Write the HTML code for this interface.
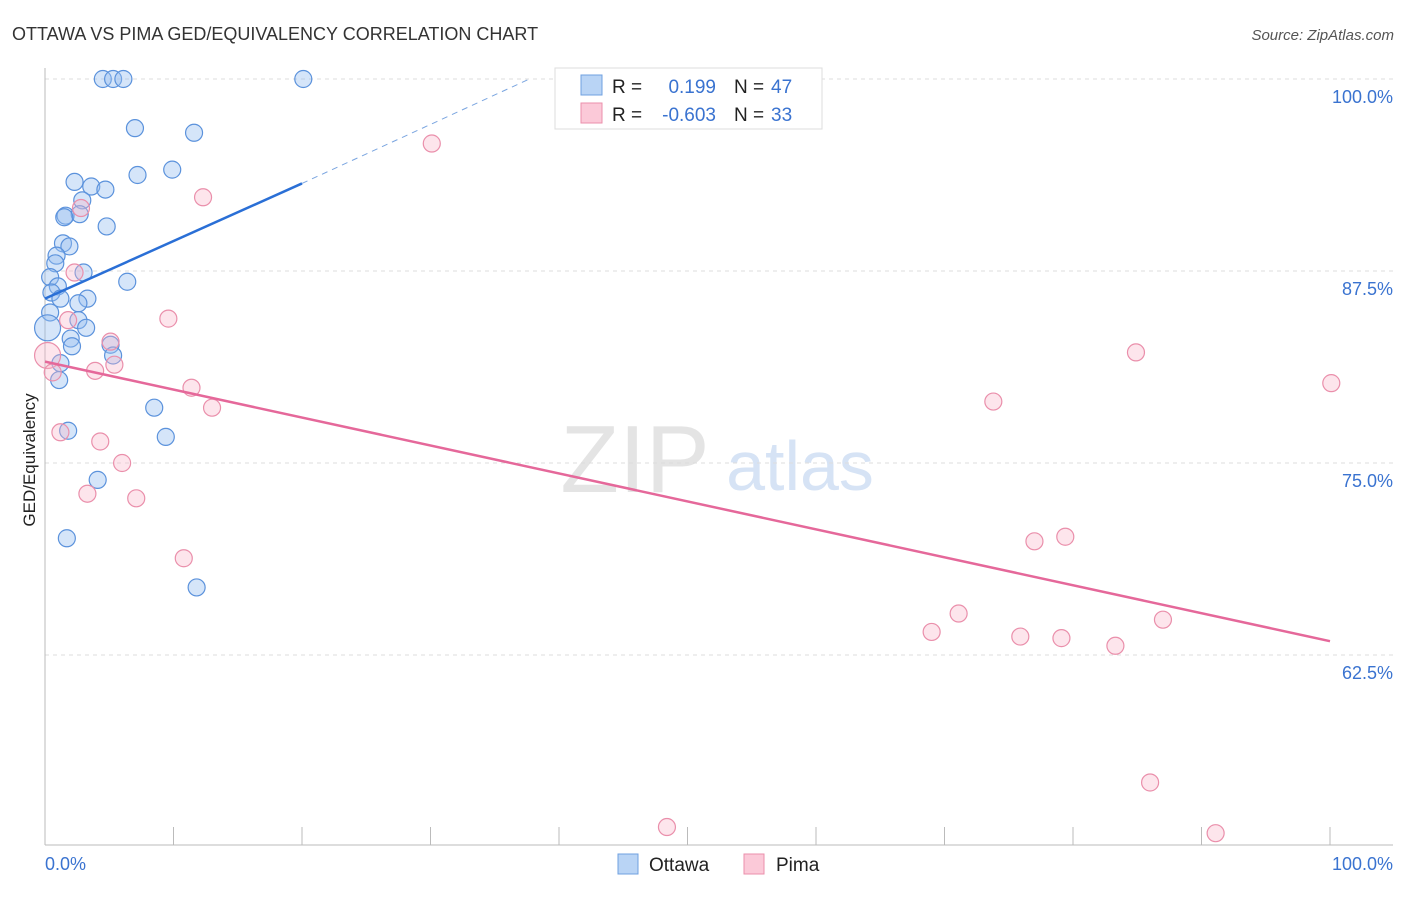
<!DOCTYPE html>
<html><head><meta charset="utf-8"><style>
body{margin:0;background:#fff;font-family:"Liberation Sans",sans-serif;}
svg text{font-family:"Liberation Sans",sans-serif;}
</style></head><body>
<svg id="chart" width="1406" height="892">
<text x="12" y="40" font-size="18" fill="#333">OTTAWA VS PIMA GED/EQUIVALENCY CORRELATION CHART</text>
<text x="1394" y="40" font-size="15" fill="#555" font-style="italic" text-anchor="end">Source: ZipAtlas.com</text>
<text x="35" y="460" font-size="17" fill="#222" text-anchor="middle" transform="rotate(-90 35 460)">GED/Equivalency</text>
<g>
<text x="635" y="492" font-size="96" fill="#e4e4e4" text-anchor="middle" font-family="Liberation Serif">ZIP</text>
<text x="800" y="490" font-size="70" fill="#d6e3f5" text-anchor="middle">atlas</text>
</g>
<g id="grid"></g><g id="axes"></g><g id="pts"></g><g id="lines"></g>
<g>
<rect x="555" y="68" width="267" height="61" fill="#fff" stroke="#ddd"/>
<rect x="581" y="75" width="21" height="20" fill="#b9d4f5" stroke="#6fa0e0"/>
<rect x="581" y="103" width="21" height="20" fill="#fbc9d8" stroke="#eb8fab"/>
<text x="612" y="93" font-size="19" fill="#222">R =</text>
<text x="716" y="93" font-size="19" fill="#3a73d0" text-anchor="end">0.199</text>
<text x="734" y="93" font-size="19" fill="#222">N =</text>
<text x="771" y="93" font-size="19" fill="#3a73d0">47</text>
<text x="612" y="121" font-size="19" fill="#222">R =</text>
<text x="716" y="121" font-size="19" fill="#3a73d0" text-anchor="end">-0.603</text>
<text x="734" y="121" font-size="19" fill="#222">N =</text>
<text x="771" y="121" font-size="19" fill="#3a73d0">33</text>
</g>
<g>
<rect x="618" y="854" width="20" height="20" fill="#b9d4f5" stroke="#6fa0e0"/>
<text x="649" y="871" font-size="19" fill="#222">Ottawa</text>
<rect x="744" y="854" width="20" height="20" fill="#fbc9d8" stroke="#eb8fab"/>
<text x="776" y="871" font-size="19" fill="#222">Pima</text>
</g>
</svg>
<script>
const ottawaX=[4.5,5.3,6.1,20.1,7.0,11.6,7.2,9.9,2.3,3.6,4.7,2.9,1.6,2.7,1.5,4.8,1.4,1.9,0.9,0.8,3.0,0.4,6.4,1.0,0.5,1.2,3.3,2.6,0.4,2.6,3.2,0.2,2.0,2.1,5.1,5.3,1.2,1.1,8.5,9.4,1.8,4.1,1.7,11.8];
const ottawaY=[100,100,100,100,96.8,96.5,93.75,94.1,93.3,93.0,92.8,92.1,91.1,91.2,91.0,90.4,89.3,89.1,88.5,88.0,87.4,87.1,86.8,86.5,86.1,85.7,85.7,85.4,84.8,84.3,83.8,83.8,83.1,82.6,82.7,82.0,81.5,80.4,78.6,76.7,77.1,73.9,70.1,66.9];
const pimaX=[30.1,12.3,2.8,2.3,1.8,9.6,5.1,0.2,5.4,3.9,0.6,11.4,13.0,1.2,4.3,6.0,3.3,7.1,10.8,84.9,100.1,73.8,77.0,79.4,71.1,69.0,75.9,79.1,83.3,87.0,86.0,48.4,91.1];
const pimaY=[95.8,92.3,91.6,87.4,84.3,84.4,82.9,82.0,81.4,81.0,80.9,79.9,78.6,77.0,76.4,75.0,73.0,72.7,68.8,82.2,80.2,79.0,69.9,70.2,65.2,64.0,63.7,63.6,63.1,64.8,54.2,51.3,50.9];
const yTicks=[100,87.5,75,62.5];
const yTickLabels=["100.0%","87.5%","75.0%","62.5%"];
const xTicks=[0,10,20,30,40,50,60,70,80,90,100];
const ottawaTrend=[0,85.7,20,93.2,37.7,100];
const pimaTrend=[0,81.6,100,63.4];
const X=v=>45+v*12.85, Y=v=>79+(100-v)*15.36;
const NS="http://www.w3.org/2000/svg";
function mk(t,a,p){const e=document.createElementNS(NS,t);for(const k in a)e.setAttribute(k,a[k]);p.appendChild(e);return e;}
const grid=document.getElementById('grid'),axes=document.getElementById('axes'),pts=document.getElementById('pts'),lines=document.getElementById('lines');
yTicks.forEach((t,i)=>{
 const g=mk('line',{x1:45,x2:1393,y1:Y(t),y2:Y(t),stroke:'#ddd','stroke-dasharray':'4,4'},grid);
 
 
 const l=mk('text',{x:1393,y:Y(t)+24,'font-size':18,fill:'#3a73d0','text-anchor':'end'},axes);
 l.textContent=yTickLabels[i];
 
 
});
const xa=mk('line',{x1:45,x2:1393,y1:845,y2:845,stroke:'#bbb'},axes);


const ya=mk('line',{x1:45,x2:45,y1:68,y2:845,stroke:'#bbb'},axes);


xTicks.forEach(t=>{
 const k=mk('line',{x1:X(t),x2:X(t),y1:827,y2:845,stroke:'#bbb'},axes);
 
 
});
[[0,"0.0%","start",45],[100,"100.0%","end",1393]].forEach(d=>{
 const l=mk('text',{x:d[3],y:870,'font-size':18,fill:'#3a73d0','text-anchor':d[2]},axes);
 l.textContent=d[1];
 
 
});
ottawaX.forEach((x,i)=>{
 const big=(i===31);
 const c=mk('circle',{cx:X(x),cy:Y(ottawaY[i]),r:big?13:8.5,fill:'rgba(150,190,240,0.4)',stroke:'#5b92dc','stroke-width':1.2},pts);
 
 
});
pimaX.forEach((x,i)=>{
 const big=(i===7);
 const c=mk('circle',{cx:X(x),cy:Y(pimaY[i]),r:big?13:8.5,fill:'rgba(248,180,200,0.35)',stroke:'#ea8fab','stroke-width':1.2},pts);
 
 
});
const ol=mk('line',{x1:X(ottawaTrend[0]),y1:Y(ottawaTrend[1]),x2:X(ottawaTrend[2]),y2:Y(ottawaTrend[3]),stroke:'#2a6fd6','stroke-width':2.5},lines);


const od=mk('line',{x1:X(ottawaTrend[2]),y1:Y(ottawaTrend[3]),x2:X(ottawaTrend[4]),y2:Y(ottawaTrend[5]),stroke:'#7aa5e0','stroke-width':1,'stroke-dasharray':'6,5'},lines);


const pl=mk('line',{x1:X(pimaTrend[0]),y1:Y(pimaTrend[1]),x2:X(pimaTrend[2]),y2:Y(pimaTrend[3]),stroke:'#e5689a','stroke-width':2.5},lines);


</script>
</body></html>
